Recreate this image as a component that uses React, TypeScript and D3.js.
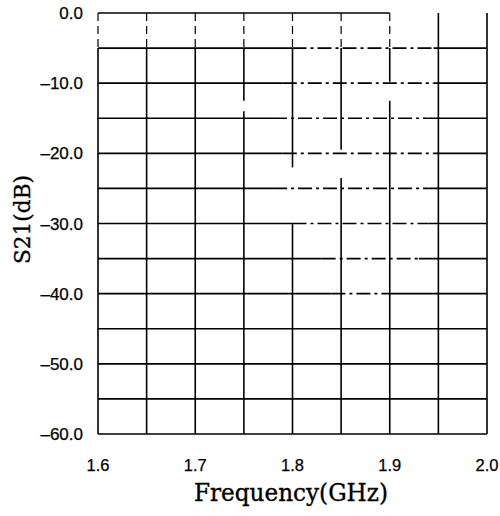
import React from "react";
import * as d3 from "d3";

// ---- data ----
const freqGrid = [1.6, 1.65, 1.7, 1.75, 1.8, 1.85, 1.9, 1.95, 2.0];
const freqLabels = [1.6, 1.7, 1.8, 1.9, 2.0];
const dbGrid = [0, -5, -10, -15, -20, -25, -30, -35, -40, -45, -50, -55, -60];
const dbLabels = [0, -10, -20, -30, -40, -50, -60];

// horizontal grid rows that appear dash-dotted in the scan (dB, from GHz, to GHz)
const dashRowDb = [-5, -10, -15, -20, -25, -30, -35, -40];
const dashRowFrom = [1.8, 1.79, 1.78, 1.79, 1.78, 1.8, 1.83, 1.84];
const dashRowTo = [1.945, 1.945, 1.94, 1.945, 1.94, 1.94, 1.93, 1.9];

// vertical grid lines with a faded gap (GHz, gap top dB, gap bottom dB)
const gapFreq = [1.75, 1.8, 1.85, 1.9];
const gapTop = [-12.5, -22, -19.5, -9.8];
const gapBottom = [-14, -30, -23.5, -12.5];

// top border only drawn up to this frequency; solid top-row verticals
const topBorderTo = 1.9;
const solidTopFreqs = [1.95, 2.0];

const W = 500;
const H = 516;
const x = d3.scaleLinear().domain([1.6, 2.0]).range([98, 487]);
const y = d3.scaleLinear().domain([0, -60]).range([13, 434]);

const fmt = (v: number) => (v === 0 ? "0.0" : v.toFixed(1).replace("-", "\u2013"));

const sans = "'Liberation Sans', Arial, Helvetica, sans-serif";
const serif = "'DejaVu Serif', 'Liberation Serif', serif";

export default function App() {
  const stroke = "#000";
  const sw = 1.6;
  const lines: React.ReactNode[] = [];

  dbGrid.forEach((d) => {
    if (d === 0) return;
    const i = dashRowDb.indexOf(d);
    if (i < 0) {
      lines.push(<line key={`h${d}`} x1={x(1.6)} x2={x(2.0)} y1={y(d)} y2={y(d)} stroke={stroke} strokeWidth={sw} />);
    } else {
      lines.push(<line key={`ha${d}`} x1={x(1.6)} x2={x(dashRowFrom[i])} y1={y(d)} y2={y(d)} stroke={stroke} strokeWidth={sw} />);
      lines.push(
        <line key={`hb${d}`} x1={x(dashRowFrom[i])} x2={x(dashRowTo[i])} y1={y(d)} y2={y(d)} stroke={stroke} strokeWidth={sw} strokeDasharray="14 4 3 4" />
      );
      lines.push(<line key={`hc${d}`} x1={x(dashRowTo[i])} x2={x(2.0)} y1={y(d)} y2={y(d)} stroke={stroke} strokeWidth={sw} />);
    }
  });
  lines.push(<line key="top" x1={x(1.6)} x2={x(topBorderTo)} y1={y(0)} y2={y(0)} stroke={stroke} strokeWidth={sw} />);

  freqGrid.forEach((f) => {
    const solidTop = solidTopFreqs.some((s) => Math.abs(s - f) < 1e-9);
    lines.push(
      <line key={`vt${f}`} x1={x(f)} x2={x(f)} y1={y(0)} y2={y(-5)} stroke={stroke} strokeWidth={solidTop ? sw : 1.2} strokeDasharray={solidTop ? undefined : "8 5"} />
    );
    const gi = gapFreq.findIndex((g) => Math.abs(g - f) < 1e-9);
    if (gi < 0) {
      lines.push(<line key={`v${f}`} x1={x(f)} x2={x(f)} y1={y(-5)} y2={y(-60)} stroke={stroke} strokeWidth={sw} />);
    } else {
      lines.push(<line key={`va${f}`} x1={x(f)} x2={x(f)} y1={y(-5)} y2={y(gapTop[gi])} stroke={stroke} strokeWidth={sw} />);
      lines.push(<line key={`vb${f}`} x1={x(f)} x2={x(f)} y1={y(gapBottom[gi])} y2={y(-60)} stroke={stroke} strokeWidth={sw} />);
    }
  });

  return (
    <svg width={W} height={H} style={{ position: "absolute", left: 0, top: 0 }}>
      <rect width={W} height={H} fill="#fff" />
      {lines}
      {dbLabels.map((d) => (
        <text key={`yl${d}`} x={83} y={y(d)} dy="0.36em" textAnchor="end" fontFamily={sans} fontSize={17} stroke="#000" strokeWidth={0.25}>
          {fmt(d)}
        </text>
      ))}
      {freqLabels.map((f) => (
        <text key={`xl${f}`} x={x(f)} y={465} dy="0.36em" textAnchor="middle" fontFamily={sans} fontSize={16.5} stroke="#000" strokeWidth={0.25}>
          {f.toFixed(1)}
        </text>
      ))}
      <text
        x={194}
        y={501}
        fontFamily={serif}
        fontSize={24}
        textLength={194}
        lengthAdjust="spacingAndGlyphs"
        stroke="#000"
        strokeWidth={0.35}
      >
        Frequency(GHz)
      </text>
      <text
        transform={`translate(30,264) rotate(-90)`}
        fontFamily={serif}
        fontSize={23}
        textLength={89}
        lengthAdjust="spacingAndGlyphs"
        stroke="#000"
        strokeWidth={0.35}
      >
        S21(dB)
      </text>
    </svg>
  );
}
